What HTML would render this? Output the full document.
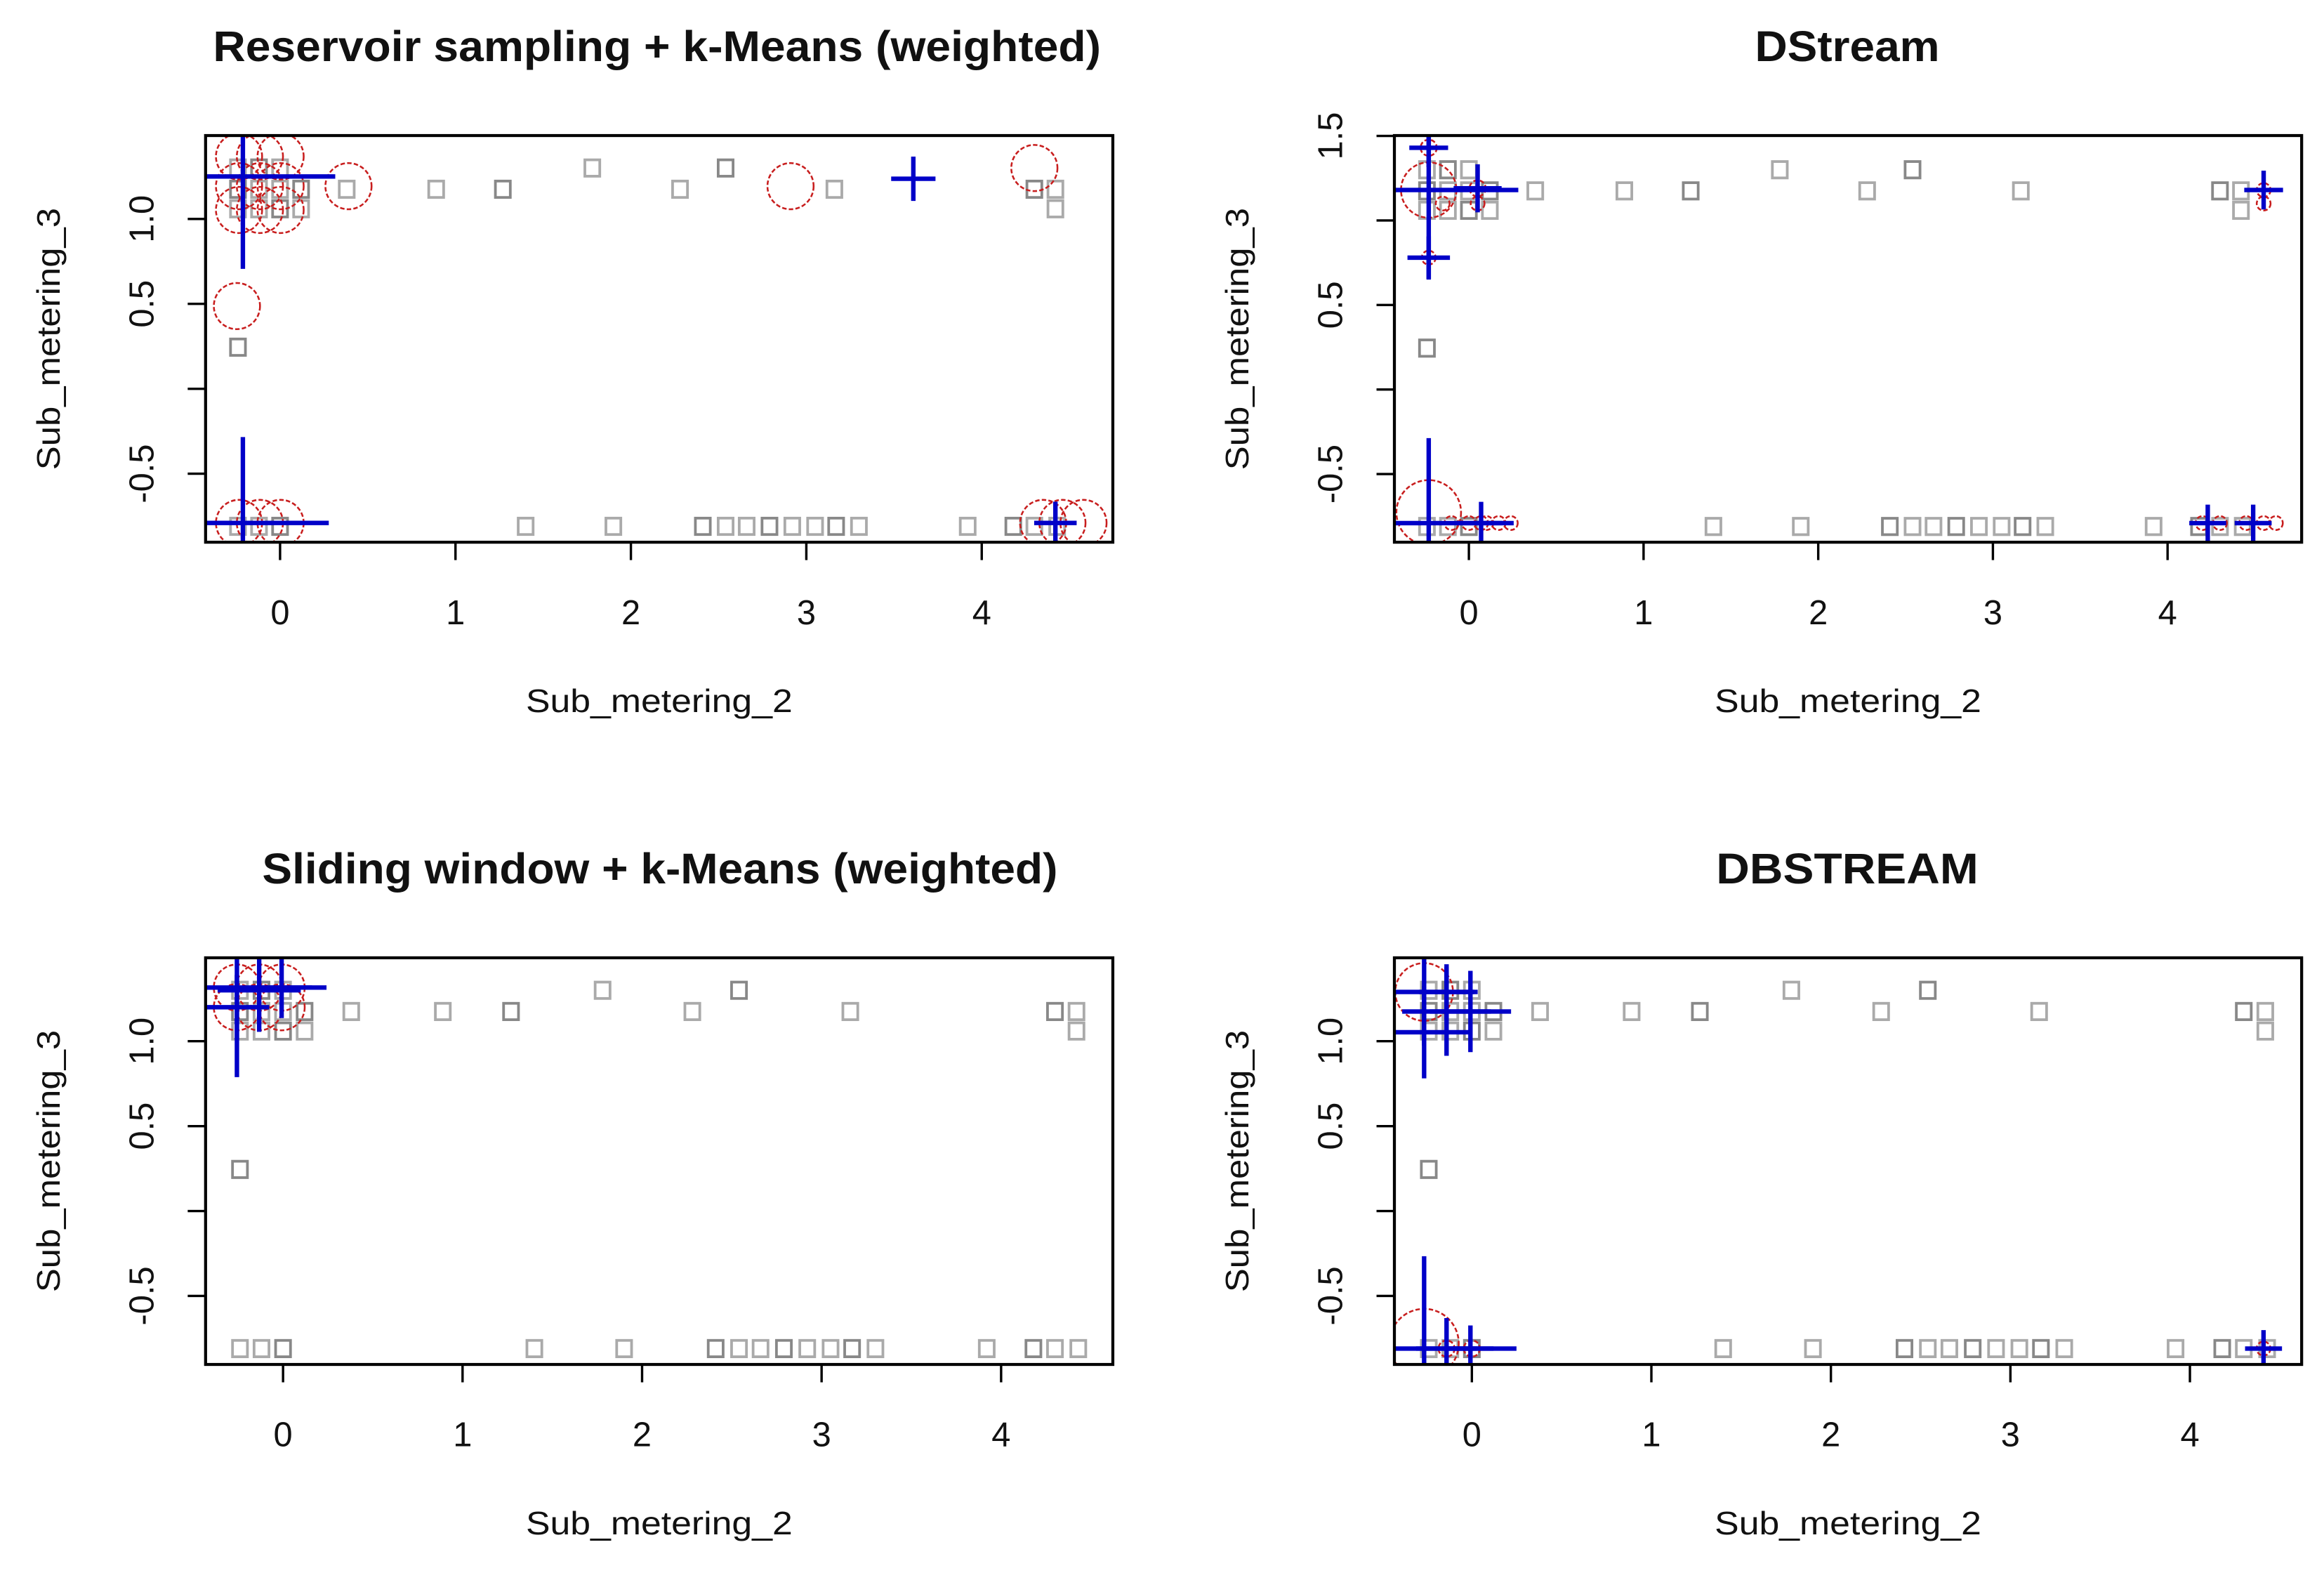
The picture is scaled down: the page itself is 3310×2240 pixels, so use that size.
<!DOCTYPE html>
<html><head><meta charset="utf-8"><style>
html,body{margin:0;padding:0;background:#fff;}
svg{display:block;}
text{font-family:"Liberation Sans",Arial,sans-serif;fill:#111;}
</style></head><body>
<svg id="chart" xmlns="http://www.w3.org/2000/svg" width="3310" height="2240" viewBox="0 0 1560 1056" preserveAspectRatio="none"></svg>
<script>
// ---------- shared data points (Sub_metering_2, Sub_metering_3) ----------
const dataX = [-0.24,-0.12,0.0,0.12,0.38,0.89,1.27,2.28,3.16,4.30,4.42,
  -0.24,-0.12,0.0,1.78,2.54,
  -0.24,-0.12,0.0,0.12,4.42,
  -0.24,
  -0.24,-0.12,0.0,1.40,1.90,2.41,2.54,2.66,2.79,2.92,3.05,3.17,3.30,3.92,4.18,4.30,4.43];
const dataY = [1.175,1.175,1.175,1.175,1.175,1.175,1.175,1.175,1.175,1.175,1.175,
  1.30,1.30,1.30,1.30,1.30,
  1.06,1.06,1.06,1.06,1.06,
  0.245,
  -0.81,-0.81,-0.81,-0.81,-0.81,-0.81,-0.81,-0.81,-0.81,-0.81,-0.81,-0.81,-0.81,-0.81,-0.81,-0.81,-0.81];

// ---------- panel 1: Reservoir sampling ----------
const p1CircX = [-0.234,-0.115,0.003,-0.234,-0.115,0.003,-0.234,-0.115,0.003,0.39,2.91,4.30,-0.246,-0.234,-0.115,0.003,4.35,4.46,4.58];
const p1CircY = [1.368,1.368,1.368,1.193,1.193,1.193,1.053,1.053,1.053,1.193,1.193,1.30,0.487,-0.79,-0.79,-0.79,-0.79,-0.79,-0.79];
const p1CircW = [1,1,1,1,1,1,1,1,1,1,1,1,1,1,1,1,1,1,1];
const p1CrossX = [-0.212,3.61,-0.212,4.42];
const p1CrossY = [1.25,1.237,-0.79,-0.79];
const p1CrossW = [1.0,0.24,0.93,0.23];

// ---------- panel 2: DStream ----------
const p2CircX = [-0.23,-0.23,-0.23,0.05,0.05,-0.23,4.55,4.55,-0.15,-0.1,0.0,0.1,0.17,0.24,4.2,4.3,4.45,4.55,4.62,0.07];
const p2CircY = [1.18,-0.727,1.43,1.19,1.1,0.78,1.18,1.1,1.1,-0.79,-0.79,-0.79,-0.79,-0.79,-0.79,-0.79,-0.79,-0.79,-0.79,-0.79];
const p2CircW = [1.2,1.4,0.35,0.35,0.3,0.3,0.3,0.3,0.3,0.3,0.3,0.3,0.3,0.3,0.3,0.3,0.3,0.3,0.3,0.3];
const p2CrossX = [-0.23,0.05,-0.23,-0.23,4.55,-0.23,0.07,4.23,4.49];
const p2CrossY = [1.18,1.19,1.43,0.78,1.18,-0.79,-0.79,-0.79,-0.79];
const p2CrossW = [0.97,0.26,0.21,0.23,0.21,0.92,0.23,0.2,0.2];

// ---------- panel 3: Sliding window ----------
const p3CircX = [-0.257,-0.133,-0.008,-0.257,-0.133,-0.008];
const p3CircY = [1.316,1.316,1.316,1.20,1.20,1.20];
const p3CircW = [1,1,1,1,1,1];
const p3CrossX = [-0.257,-0.133,-0.008,-0.257];
const p3CrossY = [1.316,1.30,1.316,1.20];
const p3CrossW = [0.97,0.45,0.33,0.35];

// ---------- panel 4: DBSTREAM ----------
const p4CircX = [-0.266,-0.266,-0.141,0.0,4.41];
const p4CircY = [1.29,-0.78,-0.81,-0.81,-0.81];
const p4CircW = [1.25,1.5,0.35,0.35,0.3];
const p4CrossX = [-0.266,-0.141,-0.008,-0.266,-0.141,-0.266,-0.141,-0.008,4.41];
const p4CrossY = [1.29,1.175,1.175,1.053,1.29,-0.81,-0.81,-0.81,-0.81];
const p4CrossW = [0.58,0.48,0.44,0.5,0.3,1.0,0.33,0.25,0.2];

const xTicks = [0,1,2,3,4];
const xTickLabels = ["0","1","2","3","4"];
const titles = ["Reservoir sampling + k-Means (weighted)","DStream","Sliding window + k-Means (weighted)","DBSTREAM"];

const NS = "http://www.w3.org/2000/svg";
const svg = document.getElementById("chart");
function mk(tag, attrs, parent){
  const e = document.createElementNS(NS, tag);
  for (const k in attrs) e.setAttribute(k, attrs[k]);
  (parent||svg).appendChild(e);
  return e;
}

const panels = [
  {box:[138,91,747,364], x0:188, xu:117.75, y1:147, yu:114, yt:[[-0.5,"-0.5"],[0,""],[0.5,"0.5"],[1.0,"1.0"]],
   cx:p1CircX, cy:p1CircY, cw:p1CircW, kx:p1CrossX, ky:p1CrossY, kw:p1CrossW, tx:441, tl:596},
  {box:[936,91,1545,364], x0:986, xu:117.25, y1:148, yu:113.5, yt:[[-0.5,"-0.5"],[0,""],[0.5,"0.5"],[1.0,""],[1.5,"1.5"]],
   cx:p2CircX, cy:p2CircY, cw:p2CircW, kx:p2CrossX, ky:p2CrossY, kw:p2CrossW, tx:1240, tl:124},
  {box:[138,643,747,916], x0:190, xu:120.5, y1:699, yu:114, yt:[[-0.5,"-0.5"],[0,""],[0.5,"0.5"],[1.0,"1.0"]],
   cx:p3CircX, cy:p3CircY, cw:p3CircW, kx:p3CrossX, ky:p3CrossY, kw:p3CrossW, tx:443, tl:534},
  {box:[936,643,1545,916], x0:988, xu:120.5, y1:699, yu:114, yt:[[-0.5,"-0.5"],[0,""],[0.5,"0.5"],[1.0,"1.0"]],
   cx:p4CircX, cy:p4CircY, cw:p4CircW, kx:p4CrossX, ky:p4CrossY, kw:p4CrossW, tx:1240, tl:176}
];
const names = ["reservoir-sampling","dstream","sliding-window","dbstream"];

panels.forEach((p, i) => {
  const [L,T,R,B] = p.box;
  const xs = v => p.x0 + p.xu*v;
  const ys = v => p.y1 - p.yu*(v-1);
  const g = mk("g", {});
  
  

  const clip = mk("clipPath", {id:"clip"+i}, g);
  mk("rect", {x:L, y:T, width:R-L, height:B-T}, clip);

  const t = mk("text", {x:p.tx, y:T-50, "text-anchor":"middle", "font-size":29, "font-weight":"bold"}, g);
  if (p.tl) { t.setAttribute("textLength", p.tl); t.setAttribute("lengthAdjust","spacingAndGlyphs"); }
  t.textContent = titles[i];
  
  

  const dg = mk("g", {"clip-path":"url(#clip"+i+")"}, g);
  
  
  dataX.forEach((v, j) => {
    const s = mk("rect", {x:xs(v)-5, y:ys(dataY[j])-5.5, width:10, height:11, fill:"none", stroke: (j%3===0?"#888":"#aaa"), "stroke-width":1.8}, dg);
    
    
  });

  const cg = mk("g", {"clip-path":"url(#clip"+i+")"}, g);
  
  
  p.cx.forEach((v, j) => {
    const c = mk("circle", {cx:xs(v), cy:ys(p.cy[j]), r:15.5*p.cw[j], fill:"none", stroke:"#c81e1e", "stroke-width":1.2, "stroke-dasharray":"3,1.5"}, cg);
    
    
  });

  const kg = mk("g", {"clip-path":"url(#clip"+i+")"}, g);
  
  
  p.kx.forEach((v, j) => {
    const cx = xs(v), cy = ys(p.ky[j]), h = 62*p.kw[j];
    const k = mk("path", {d:`M${cx-h},${cy}H${cx+h}M${cx},${cy-h}V${cy+h}`, stroke:"#0000c8", "stroke-width":3, fill:"none"}, kg);
    
    
  });

  const bx = mk("rect", {x:L, y:T, width:R-L, height:B-T, fill:"none", stroke:"#000", "stroke-width":2}, g);
  
  

  const xa = mk("g", {}, g);
  
  
  mk("line", {x1:xs(0), x2:xs(4), y1:B, y2:B, stroke:"#000", "stroke-width":1.6}, xa);
  xTicks.forEach((v, j) => {
    mk("line", {x1:xs(v), x2:xs(v), y1:B, y2:B+12, stroke:"#000", "stroke-width":1.6}, xa);
    const tl = mk("text", {x:xs(v), y:B+55, "text-anchor":"middle", "font-size":23}, xa);
    tl.textContent = xTickLabels[j];
    
    
  });
  const xt = mk("text", {x:(L+R)/2, y:B+114, "text-anchor":"middle", "font-size":22, textLength:179, lengthAdjust:"spacingAndGlyphs"}, g);
  xt.textContent = "Sub_metering_2";
  
  

  const ya = mk("g", {}, g);
  
  
  const yv = p.yt.map(d => d[0]);
  mk("line", {x1:L, x2:L, y1:ys(Math.min(...yv)), y2:Math.max(T, ys(Math.max(...yv))), stroke:"#000", "stroke-width":1.6}, ya);
  p.yt.forEach(d => {
    const y = ys(d[0]);
    mk("line", {x1:L-12, x2:L, y1:y, y2:y, stroke:"#000", "stroke-width":1.6}, ya);
    if (d[1]) {
      const tl = mk("text", {x:0, y:0, "text-anchor":"middle", "font-size":23, transform:`translate(${L-35},${y}) rotate(-90)`}, ya);
      tl.textContent = d[1];
      
      
    }
  });
  const yt = mk("text", {x:0, y:0, "text-anchor":"middle", "font-size":22, textLength:176, lengthAdjust:"spacingAndGlyphs", transform:`translate(${L-98},${(T+B)/2}) rotate(-90)`}, g);
  yt.textContent = "Sub_metering_3";
  
  
});
</script>
</body></html>
